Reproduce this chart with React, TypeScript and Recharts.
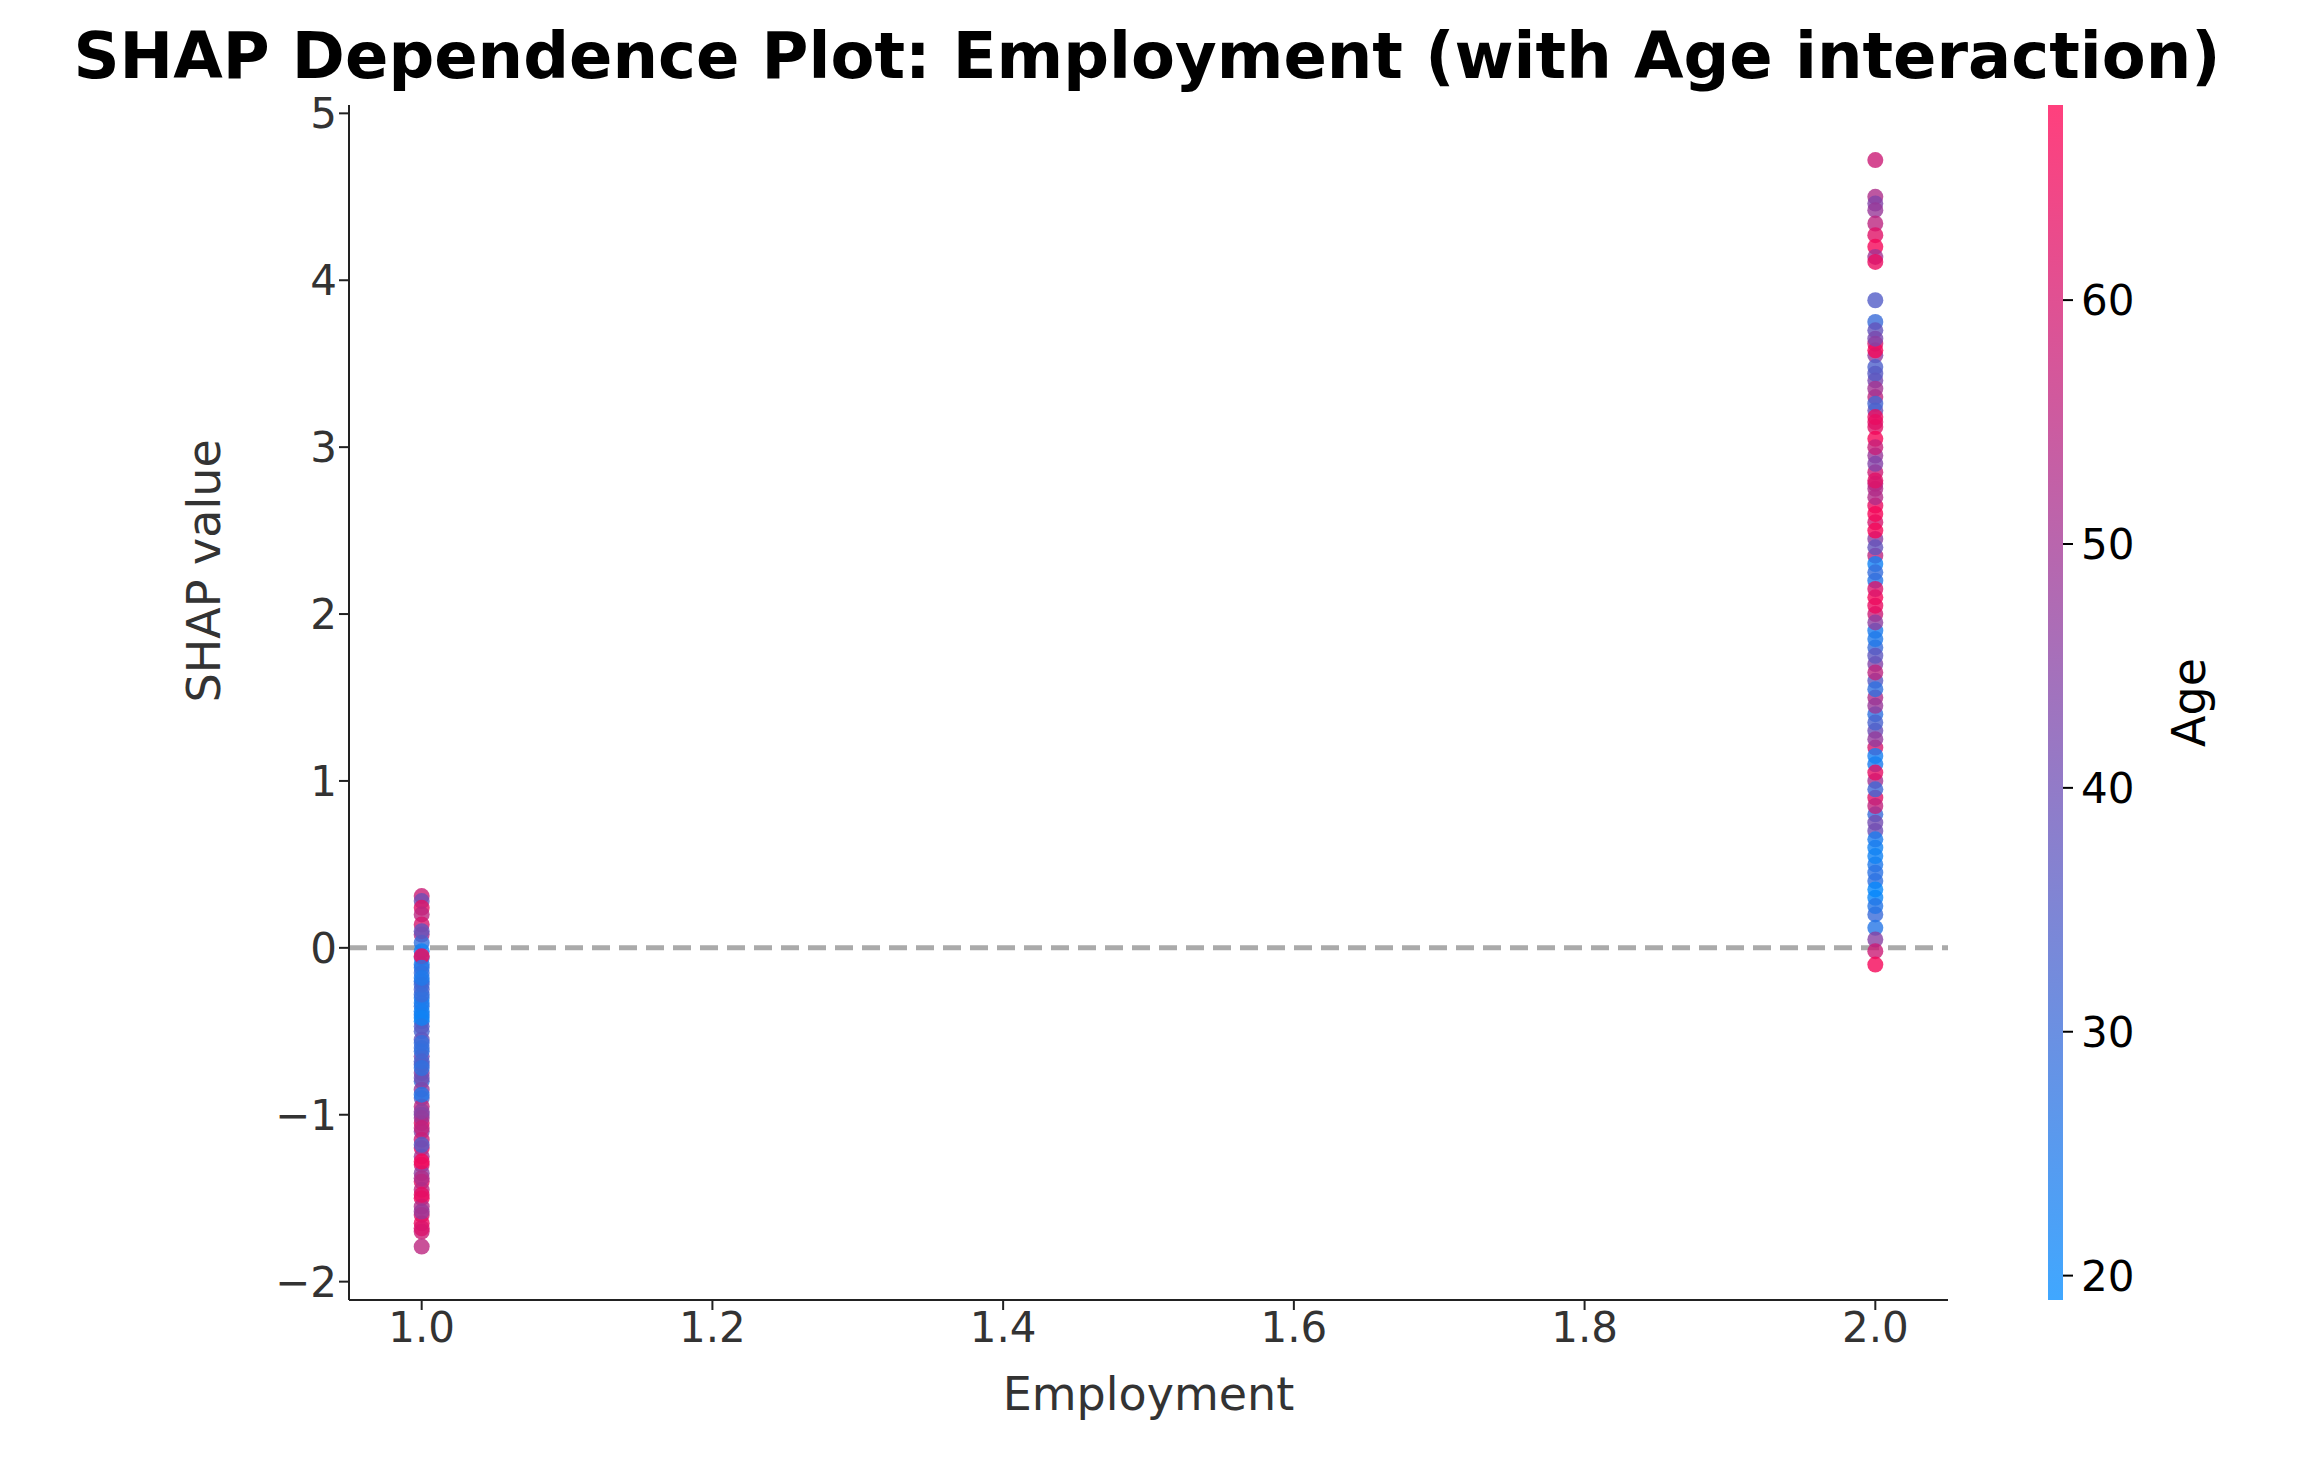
import { ScatterChart, Scatter, XAxis, YAxis, ReferenceLine } from 'recharts';

// SHAP values and Age for Employment = 1
const shapEmp1 = [0.31, 0.28, 0.24, 0.2, 0.14, 0.08, 0.03, -0.02, -0.06, -0.1, -0.15, -0.2, -0.25, -0.3, -0.35, -0.4, -0.44, -0.5, -0.55, -0.6, -0.65, -0.7, -0.75, -0.8, -0.85, -0.9, -0.95, -1.0, -1.05, -1.1, -1.15, -1.2, -1.25, -1.3, -1.35, -1.4, -1.45, -1.5, -1.55, -1.6, -1.65, -1.7, -1.79, -0.05, -0.38, -0.62, -1.02, -1.28,
  0.1, -0.12, -0.22, -0.33, -0.47, -0.57, -0.68, -0.78, -0.88, -0.98, -1.08, -1.18, -1.38, -1.48, -1.58, -1.68, -0.42, -0.28, -0.72, -0.18];
const ageEmp1 = [58, 40, 62, 55, 60, 52, 28, 22, 25, 24, 30, 26, 34, 23, 29, 27, 21, 33, 38, 31, 42, 36, 45, 30, 48, 35, 55, 40, 62, 44, 58, 64, 50, 60, 46, 62, 55, 65, 52, 60, 64, 58, 55, 66, 22, 28, 50, 66,
  38, 27, 31, 24, 36, 29, 33, 41, 26, 46, 57, 35, 52, 63, 48, 61, 22, 30, 28, 25];

// SHAP values and Age for Employment = 2
const shapEmp2 = [4.72, 4.5, 4.46, 4.42, 4.34, 4.27, 4.2, 4.14, 4.11, 3.88, 3.75, 3.7, 3.62, 3.55, 3.48, 3.4, 3.3, 3.22, 3.12, 3.05, 2.95, 2.85, 2.75, 2.65, 2.55, 2.45, 2.35, 2.3, 2.2, 2.1, 2.0, 1.9, 1.8, 1.7, 1.6, 1.5, 1.4, 1.3, 1.2, 1.1, 1.0, 0.9, 0.8, 0.7, 0.6, 0.5, 0.4, 0.3, 0.2, 0.12, 0.05, -0.02, -0.1, 2.6, 2.05, 3.15, 1.45, 0.85, 3.58, 2.78,
  3.65, 3.44, 3.35, 3.26, 3.18, 3.0, 2.9, 2.8, 2.7, 2.5, 2.4, 2.25, 2.15, 1.95, 1.85, 1.75, 1.65, 1.55, 1.35, 1.25, 1.15, 1.05, 0.95, 0.75, 0.65, 0.55, 0.45, 0.35, 0.25];
const ageEmp2 = [58, 52, 44, 48, 55, 62, 66, 50, 64, 35, 30, 38, 60, 46, 34, 42, 55, 40, 62, 66, 48, 58, 52, 64, 60, 45, 55, 22, 26, 66, 58, 24, 30, 44, 36, 52, 28, 40, 60, 24, 50, 62, 30, 40, 22, 25, 28, 21, 30, 26, 45, 58, 66, 66, 64, 62, 48, 56, 66, 54,
  42, 36, 50, 32, 64, 57, 44, 62, 53, 66, 38, 29, 61, 46, 25, 37, 55, 28, 33, 47, 23, 63, 31, 41, 24, 22, 27, 20, 26];

const yTicks = [-2, -1, 0, 1, 2, 3, 4, 5];
const xTicks = [1.0, 1.2, 1.4, 1.6, 1.8, 2.0];
const ageTicks = [20, 30, 40, 50, 60];
const ageMin = 19;
const ageMax = 68;

const blue = [0, 138, 255];
const red = [255, 0, 82];
const ageColor = (a: number) => {
  const t = Math.max(0, Math.min(1, (a - ageMin) / (ageMax - ageMin)));
  const c = blue.map((b, i) => Math.round(b + (red[i] - b) * t));
  return `rgb(${c[0]},${c[1]},${c[2]})`;
};

const points = [
  ...shapEmp1.map((s, i) => ({ x: 1.0, y: s, age: ageEmp1[i] })),
  ...shapEmp2.map((s, i) => ({ x: 2.0, y: s, age: ageEmp2[i] })),
];

const W = 2297;
const H = 1469;
const font = 'DejaVu Sans';
const minus = (v: number, d = 0) => v.toFixed(d).replace('-', '\u2212');

const Dot = (props: any) => {
  const { cx, cy, payload } = props;
  return <circle cx={cx} cy={cy} r={8} fill={ageColor(payload.age)} fillOpacity={0.8} />;
};

// colorbar geometry
const cbX = 2048;
const cbW = 15;
const cbTop = 105;
const cbBot = 1300;
const ageY = (a: number) => cbBot - ((a - ageMin) / (ageMax - ageMin)) * (cbBot - cbTop);

export default function App() {
  return (
    <div style={{ position: 'relative', width: W, height: H, background: '#fff', fontFamily: font }}>
      <style>{`body{margin:0}`}</style>
      <ScatterChart width={W} height={H} margin={{ top: 105, right: 349, left: 239, bottom: 49 }}>
        <text x={1147} y={78} textAnchor="middle" fontSize={64} fontWeight="bold" fontFamily={font} fill="#000">
          SHAP Dependence Plot: Employment (with Age interaction)
        </text>
        <XAxis
          type="number"
          dataKey="x"
          domain={[0.95, 2.05]}
          ticks={xTicks}
          tickFormatter={(v: number) => v.toFixed(1)}
          height={120}
          stroke="#222"
          strokeWidth={2}
          tickSize={10}
          tick={{ fontSize: 42, fill: '#333', fontFamily: font }}
          label={{ value: 'Employment', position: 'insideBottom', offset: 10, fontSize: 46, fill: '#333', fontFamily: font }}
        />
        <YAxis
          type="number"
          dataKey="y"
          domain={[-2.11, 5.05]}
          ticks={yTicks}
          tickFormatter={(v: number) => minus(v)}
          width={110}
          stroke="#222"
          strokeWidth={2}
          tickSize={10}
          tick={{ fontSize: 42, fill: '#333', fontFamily: font }}
          label={{ value: 'SHAP value', angle: -90, position: 'insideLeft', offset: 0, dx: -35, fontSize: 46, fill: '#333', fontFamily: font }}
        />
        <ReferenceLine y={0} stroke="#aaa" strokeWidth={5} strokeDasharray="18 9" />
        <Scatter data={points} shape={<Dot />} isAnimationActive={false} />
      </ScatterChart>
      <svg width={W} height={H} style={{ position: 'absolute', left: 0, top: 0, pointerEvents: 'none' }}>
        <defs>
          <linearGradient id="cb" x1="0" y1="1" x2="0" y2="0">
            <stop offset="0%" stopColor={ageColor(ageMin)} stopOpacity={0.75} />
            <stop offset="50%" stopColor={ageColor((ageMin + ageMax) / 2)} stopOpacity={0.75} />
            <stop offset="100%" stopColor={ageColor(ageMax)} stopOpacity={0.75} />
          </linearGradient>
        </defs>
        <rect x={cbX} y={cbTop} width={cbW} height={cbBot - cbTop} fill="url(#cb)" />
        {ageTicks.map((a) => (
          <g key={a}>
            <line x1={cbX + cbW} x2={cbX + cbW + 10} y1={ageY(a)} y2={ageY(a)} stroke="#000" strokeWidth={2} />
            <text x={cbX + cbW + 18} y={ageY(a) + 15} fontSize={42} fontFamily={font} fill="#000">{a}</text>
          </g>
        ))}
        <text x={2205} y={(cbTop + cbBot) / 2} transform={`rotate(-90 2205 ${(cbTop + cbBot) / 2})`} textAnchor="middle" fontSize={46} fontFamily={font} fill="#000">
          Age
        </text>
      </svg>
    </div>
  );
}
